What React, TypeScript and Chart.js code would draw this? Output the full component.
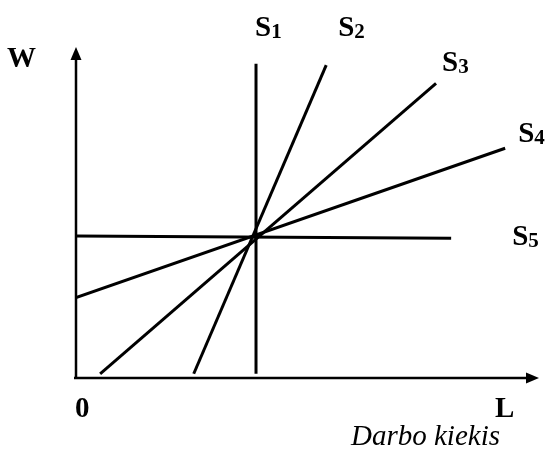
import React, { useEffect, useRef } from "react";
import { Chart, registerables } from "chart.js";

Chart.register(...registerables);

// Labour supply curves S1..S5: L (labour quantity) vs W (wage)
const seriesNames = ["1", "2", "3", "4", "5"];
const s1L = [5, 5];
const s1W = [0.15, 11.15];
const s2L = [3.27, 6.95];
const s2W = [0.15, 11.1];
const s3L = [0.67, 10.0];
const s3W = [0.15, 10.45];
const s4L = [0, 11.92];
const s4W = [2.85, 8.15];
const s5L = [0, 10.42];
const s5W = [5.04, 4.96];

const xAxisLabel = "L";
const yAxisLabel = "W";
const originLabel = "0";
const xAxisTitle = "Darbo kiekis";

const xMax = 12.86;
const yMax = 11.74;

const FONT = '"Liberation Serif", "Times New Roman", serif';

const toPoints = (xs: number[], ys: number[]) => xs.map((x, i) => ({ x, y: ys[i] }));
const allSeries = [
  toPoints(s1L, s1W),
  toPoints(s2L, s2W),
  toPoints(s3L, s3W),
  toPoints(s4L, s4W),
  toPoints(s5L, s5W),
];

// label offsets (px) from each curve's upper/right end
const labelOffsets: [number, number][] = [
  [-1, -28],
  [12, -29],
  [6, -12],
  [13, -6],
  [61, 7],
];

const decorPlugin = {
  id: "decor",
  afterDatasetsDraw(chart: any) {
    const { ctx, chartArea, scales } = chart;
    const x0 = scales.x.getPixelForValue(0);
    const y0 = scales.y.getPixelForValue(0);
    const right = chartArea.right;
    const top = chartArea.top;
    ctx.save();
    ctx.strokeStyle = "#000";
    ctx.fillStyle = "#000";
    ctx.lineWidth = 2.5;
    // y axis
    ctx.beginPath();
    ctx.moveTo(x0, y0 + 1);
    ctx.lineTo(x0, top + 10);
    ctx.stroke();
    ctx.beginPath();
    ctx.moveTo(x0, top);
    ctx.lineTo(x0 - 5.5, top + 13);
    ctx.lineTo(x0 + 5.5, top + 13);
    ctx.closePath();
    ctx.fill();
    // x axis
    ctx.beginPath();
    ctx.moveTo(x0 - 2, y0);
    ctx.lineTo(right - 10, y0);
    ctx.stroke();
    ctx.beginPath();
    ctx.moveTo(right, y0);
    ctx.lineTo(right - 13, y0 - 5.5);
    ctx.lineTo(right - 13, y0 + 5.5);
    ctx.closePath();
    ctx.fill();

    // axis letters
    ctx.textBaseline = "alphabetic";
    ctx.textAlign = "left";
    ctx.font = `bold 29px ${FONT}`;
    ctx.fillText(yAxisLabel, x0 - 69, top + 20);
    ctx.fillText(originLabel, x0 - 1, y0 + 39);
    ctx.fillText(xAxisLabel, right - 44, y0 + 39);
    ctx.font = `italic 29px ${FONT}`;
    ctx.textAlign = "right";
    ctx.fillText(xAxisTitle, right - 39, y0 + 67);

    // series labels S with subscript
    ctx.textAlign = "left";
    allSeries.forEach((pts, i) => {
      const end = pts[pts.length - 1];
      const px = scales.x.getPixelForValue(end.x) + labelOffsets[i][0];
      const py = scales.y.getPixelForValue(end.y) + labelOffsets[i][1];
      ctx.font = `bold 29px ${FONT}`;
      ctx.fillText("S", px, py);
      const w = ctx.measureText("S").width;
      ctx.font = `bold 21px ${FONT}`;
      ctx.fillText(seriesNames[i], px + w, py + 2);
    });
    ctx.restore();
  },
};

export default function App() {
  const canvasRef = useRef<HTMLCanvasElement | null>(null);

  useEffect(() => {
    if (!canvasRef.current) return;
    const chart = new Chart(canvasRef.current, {
      type: "scatter",
      data: {
        datasets: allSeries.map((pts, i) => ({
          label: "S" + seriesNames[i],
          data: pts,
          showLine: true,
          borderColor: "#000",
          backgroundColor: "#000",
          borderWidth: 3,
          borderCapStyle: "butt",
          pointRadius: 0,
          pointHoverRadius: 0,
          tension: 0,
        })),
      },
      options: {
        animation: false,
        responsive: true,
        maintainAspectRatio: false,
        layout: { padding: { left: 76, right: 6, top: 47, bottom: 73 } },
        plugins: {
          legend: { display: false },
          tooltip: { enabled: false },
          title: { display: false },
        },
        scales: {
          x: { type: "linear", min: 0, max: xMax, display: false },
          y: { type: "linear", min: 0, max: yMax, display: false },
        },
      },
      plugins: [decorPlugin],
    } as any);
    return () => chart.destroy();
  }, []);

  return (
    <div
      style={{
        position: "fixed",
        left: 0,
        top: 0,
        width: 545,
        height: 451,
        background: "#fff",
      }}
    >
      <canvas ref={canvasRef} />
    </div>
  );
}
